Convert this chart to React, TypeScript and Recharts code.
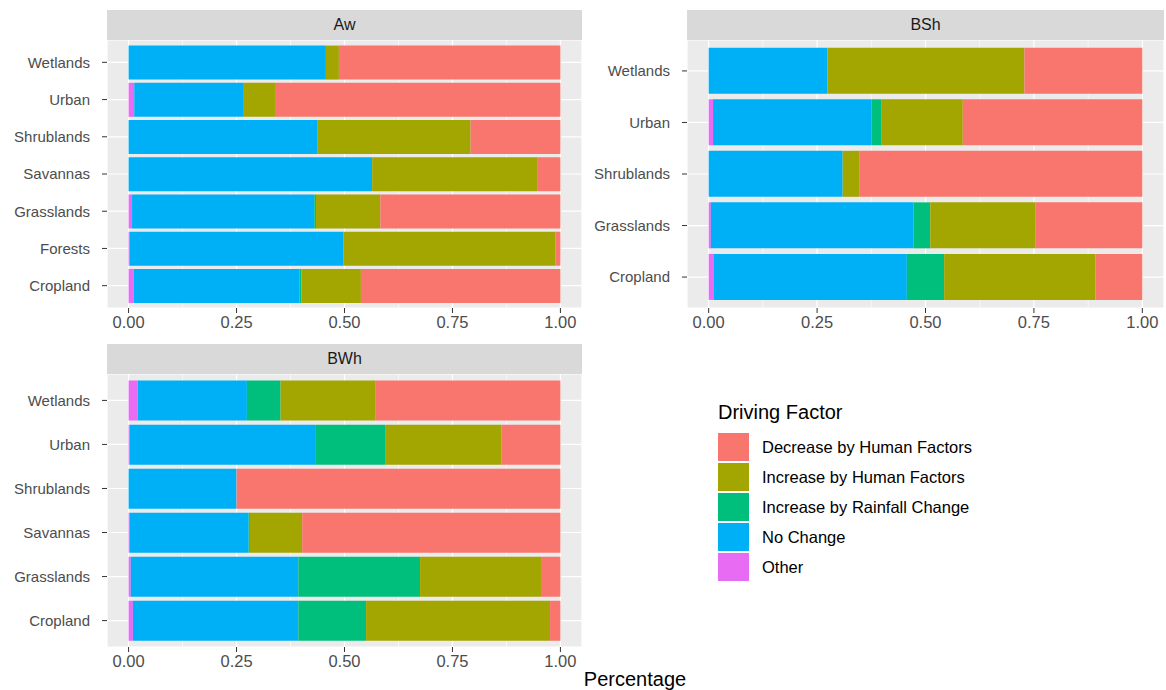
// Land cover driving factors by climate zone — three facet panels, ggplot look
import { BarChart, Bar, XAxis, YAxis, CartesianGrid, ReferenceLine } from "recharts";

const FACTORS = [
  "Decrease by Human Factors",
  "Increase by Human Factors",
  "Increase by Rainfall Change",
  "No Change",
  "Other",
];
const COLORS = ["#F8766D", "#A3A500", "#00BF7D", "#00B0F6", "#E76BF3"];
const KEYS = ["decrease", "incHuman", "rain", "noChange", "other"];

const X_TICKS = [0, 0.25, 0.5, 0.75, 1];
const X_MINOR = [0.125, 0.375, 0.625, 0.875];

// Aw
const awCats = ["Wetlands", "Urban", "Shrublands", "Savannas", "Grasslands", "Forests", "Cropland"];
const awDecrease = [0.513, 0.661, 0.208, 0.054, 0.417, 0.011, 0.462];
const awIncHuman = [0.03, 0.074, 0.354, 0.382, 0.149, 0.491, 0.138];
const awRain = [0, 0, 0, 0, 0.004, 0, 0.004];
const awNoChange = [0.457, 0.252, 0.438, 0.564, 0.422, 0.496, 0.384];
const awOther = [0, 0.013, 0, 0, 0.008, 0.002, 0.012];

// BSh
const bshCats = ["Wetlands", "Urban", "Shrublands", "Grasslands", "Cropland"];
const bshDecrease = [0.272, 0.414, 0.653, 0.247, 0.108];
const bshIncHuman = [0.454, 0.187, 0.038, 0.242, 0.349];
const bshRain = [0, 0.024, 0, 0.039, 0.086];
const bshNoChange = [0.274, 0.365, 0.309, 0.467, 0.446];
const bshOther = [0, 0.01, 0, 0.005, 0.011];

// BWh
const bwhCats = ["Wetlands", "Urban", "Shrublands", "Savannas", "Grasslands", "Cropland"];
const bwhDecrease = [0.429, 0.137, 0.75, 0.598, 0.043, 0.024];
const bwhIncHuman = [0.219, 0.269, 0, 0.121, 0.282, 0.426];
const bwhRain = [0.078, 0.162, 0, 0.003, 0.282, 0.157];
const bwhNoChange = [0.253, 0.43, 0.25, 0.275, 0.388, 0.383];
const bwhOther = [0.021, 0.002, 0, 0.003, 0.005, 0.01];

const FONT = "'Liberation Sans', Arial, sans-serif";

function buildRows(cats: string[], series: number[][]) {
  return cats.map((c, i) => {
    const row: any = { cat: c };
    KEYS.forEach((k, j) => (row[k] = series[j][i]));
    return row;
  });
}

type PanelProps = {
  title: string;
  rows: any[];
  left: number;
  top: number;
  width: number;
  plotHeight: number;
};

const AXIS_H = 32;
const Y_W = 107;

function Panel({ title, rows, left, top, width, plotHeight }: PanelProps) {
  const n = rows.length;
  const pad = (plotHeight / (n + 0.2)) * 0.1;
  return (
    <>
      <div
        style={{
          position: "absolute",
          left: left + Y_W,
          top: top - 30,
          width: width - Y_W - 2,
          height: 30,
          background: "#D9D9D9",
          color: "#1A1A1A",
          fontSize: 16,
          lineHeight: "30px",
          textAlign: "center",
          fontFamily: FONT,
        }}
      >
        {title}
      </div>
      <div style={{ position: "absolute", left, top }}>
        <BarChart
          width={width}
          height={plotHeight + AXIS_H}
          data={rows}
          layout="vertical"
          margin={{ top: 0, right: 2, bottom: 0, left: 0 }}
          barCategoryGap="5%"
        >
          <CartesianGrid fill="#EBEBEB" stroke="#FFFFFF" strokeWidth={1.2} />
          {X_MINOR.map((v) => (
            <ReferenceLine key={v} x={v} stroke="#FFFFFF" strokeWidth={0.6} zIndex={-50} />
          ))}
          <XAxis
            type="number"
            domain={[-0.05, 1.05]}
            ticks={X_TICKS}
            tickFormatter={(v) => Number(v).toFixed(2)}
            axisLine={false}
            tickLine={{ stroke: "#333333" }}
            tickSize={5}
            tickMargin={3}
            height={AXIS_H}
            tick={{ fontSize: 16.5, fill: "#4D4D4D", fontFamily: FONT }}
            allowDataOverflow
          />
          <YAxis
            type="category"
            dataKey="cat"
            width={Y_W}
            axisLine={false}
            tickLine={{ stroke: "#333333" }}
            tickSize={5}
            tickMargin={12}
            padding={{ top: pad, bottom: pad }}
            tick={{ fontSize: 15, fill: "#4D4D4D", fontFamily: FONT }}
          />
          {[4, 3, 2, 1, 0].map((j) => (
            <Bar
              key={KEYS[j]}
              dataKey={KEYS[j]}
              stackId="s"
              fill={COLORS[j]}
              isAnimationActive={false}
            />
          ))}
        </BarChart>
      </div>
    </>
  );
}

export default function App() {
  const awRows = buildRows(awCats, [awDecrease, awIncHuman, awRain, awNoChange, awOther]);
  const bshRows = buildRows(bshCats, [bshDecrease, bshIncHuman, bshRain, bshNoChange, bshOther]);
  const bwhRows = buildRows(bwhCats, [bwhDecrease, bwhIncHuman, bwhRain, bwhNoChange, bwhOther]);

  return (
    <div
      style={{
        position: "absolute",
        left: 0,
        top: 0,
        width: 1166,
        height: 690,
        background: "#FFFFFF",
        fontFamily: FONT,
        overflow: "hidden",
      }}
    >
      <Panel title="Aw" rows={awRows} left={0} top={40} width={584} plotHeight={268} />
      <Panel title="BSh" rows={bshRows} left={580} top={40} width={586} plotHeight={268} />
      <Panel title="BWh" rows={bwhRows} left={0} top={374} width={584} plotHeight={273} />

      {/* legend */}
      <div style={{ position: "absolute", left: 718, top: 400 }}>
        <div style={{ fontSize: 20, color: "#000", lineHeight: "24px", marginBottom: 8 }}>
          Driving Factor
        </div>
        {FACTORS.map((f, i) => (
          <div key={f} style={{ display: "flex", alignItems: "center", height: 30 }}>
            <div style={{ width: 31, height: 28, background: COLORS[i] }} />
            <span style={{ marginLeft: 13, fontSize: 16.5, color: "#000" }}>{f}</span>
          </div>
        ))}
      </div>

      <div
        style={{
          position: "absolute",
          left: 535,
          width: 200,
          top: 668,
          textAlign: "center",
          fontSize: 20,
          color: "#000",
          lineHeight: "22px",
        }}
      >
        Percentage
      </div>
    </div>
  );
}
